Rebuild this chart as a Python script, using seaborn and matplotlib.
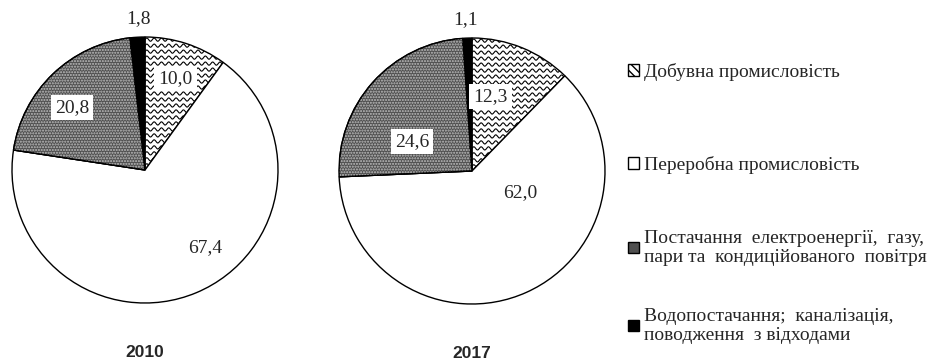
import numpy as np
import matplotlib
matplotlib.use("Agg")
import matplotlib.pyplot as plt
import seaborn as sns
from matplotlib.patches import Patch, Wedge

# ---- data ----
categories = [
    "Добувна промисловість",
    "Переробна промисловість",
    "Постачання  електроенергії,  газу,\nпари та  кондиційованого  повітря",
    "Водопостачання;  каналізація,\nповодження  з відходами",
]
years = ["2010", "2017"]
values_2010 = [10.0, 67.4, 20.8, 1.8]
values_2017 = [12.3, 62.0, 24.6, 1.1]
labels_2010 = ["10,0", "67,4", "20,8", "1,8"]
labels_2017 = ["12,3", "62,0", "24,6", "1,1"]

# ---- layout / style ----
label_pos_2010 = [(0.23, 0.69), (0.45, -0.58), (-0.55, 0.47), (-0.05, 1.14)]
label_pos_2017 = [(0.14, 0.56), (0.36, -0.16), (-0.45, 0.22), (-0.05, 1.14)]
face_colors = ["white", "white", "#505050", "black"]

sns.set_theme(style="white")
plt.rcParams["font.family"] = ["Liberation Serif", "DejaVu Serif"]
plt.rcParams["hatch.linewidth"] = 1.0

W, H = 948, 361
fig = plt.figure(figsize=(W / 100, H / 100), dpi=100)


def pie_axes(cx, cy, r):
    return fig.add_axes([(cx - r) / W, (H - cy - r) / H, 2 * r / W, 2 * r / H])


def draw_pie(ax, values, labels, positions, year):
    wedges, _ = ax.pie(values, colors=face_colors, startangle=90, counterclock=False,
                       wedgeprops=dict(edgecolor="black", linewidth=1.0))
    ax.set_xlim(-1, 1)
    ax.set_ylim(-1, 1)
    ax.set_aspect("equal")
    ax.axis("off")
    # wavy texture for the first sector
    xs = np.linspace(-1.05, 1.05, 900)
    for yl in np.arange(-1.0, 1.02, 0.045):
        ln, = ax.plot(xs, yl + 0.012 * np.sin(2 * np.pi * xs / 0.055), color="black", lw=0.8)
        ln.set_clip_path(wedges[0])
    # dotted texture for the gray sector
    w2 = wedges[2]
    over = Wedge(w2.center, w2.r, w2.theta1, w2.theta2, facecolor="none",
                 edgecolor="#c0c0c0", hatch="......", linewidth=0)
    ax.add_patch(over)
    w2b = Wedge(w2.center, w2.r, w2.theta1, w2.theta2, facecolor="none",
                edgecolor="black", linewidth=1.0)
    ax.add_patch(w2b)
    for lab, (x, y) in zip(labels, positions):
        ax.text(x, y, lab, ha="center", va="center", fontsize=14,
                bbox=dict(facecolor="white", edgecolor="none", pad=3))
    ax.text(0, -1.37, year, ha="center", va="center", fontsize=12.5,
            fontweight="bold", family=["Liberation Sans", "DejaVu Sans"])


ax1 = pie_axes(145, 170, 133)
draw_pie(ax1, values_2010, labels_2010, label_pos_2010, years[0])
ax2 = pie_axes(472, 171, 133)
draw_pie(ax2, values_2017, labels_2017, label_pos_2017, years[1])

handles = [
    Patch(facecolor="white", edgecolor="black", hatch="\\\\\\\\"),
    Patch(facecolor="white", edgecolor="black"),
    Patch(facecolor="#505050", edgecolor="black"),
    Patch(facecolor="black", edgecolor="black"),
]
legend_y = [72, 165, 248, 326]
for h, lab, y in zip(handles, categories, legend_y):
    fig.legend(handles=[h], labels=[lab], loc="center left",
               bbox_to_anchor=(628 / W, 1 - y / H), frameon=False,
               fontsize=14, handlelength=0.55, handleheight=0.55,
               handletextpad=0.25, borderpad=0, borderaxespad=0,
               labelspacing=0.1)

fig.savefig("out.png", dpi=100, facecolor="white")
